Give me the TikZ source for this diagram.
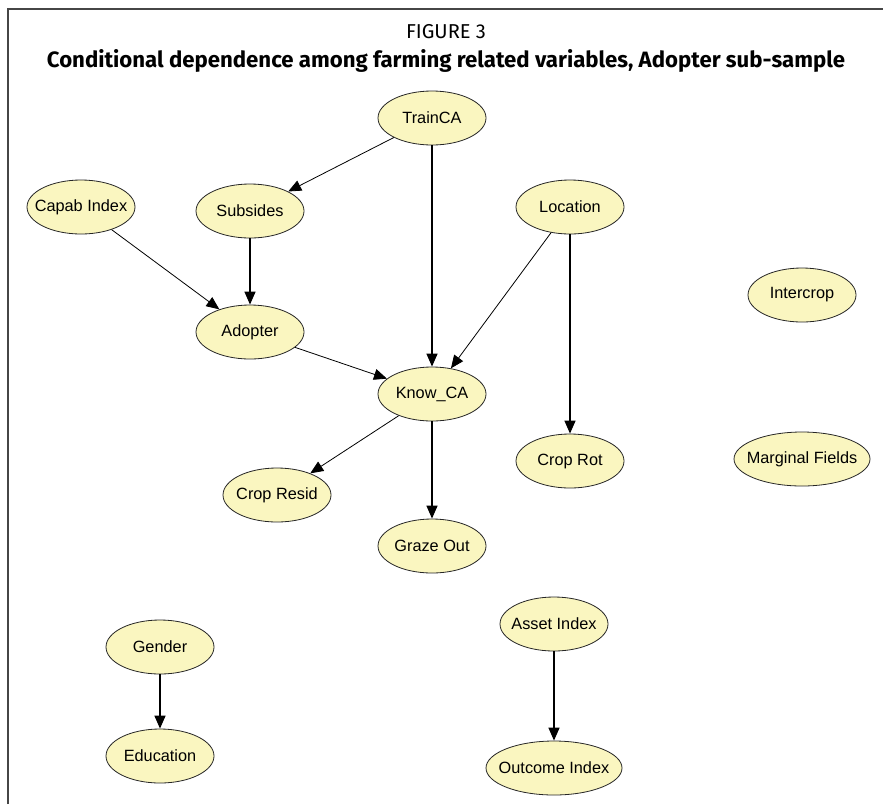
\documentclass[tikz,border=0pt]{standalone}
\usepackage{fontspec}
\setmainfont{Liberation Sans}
\newfontfamily\titlefont{Fira Sans}
\usetikzlibrary{shapes.geometric,arrows.meta}
\definecolor{nodefill}{RGB}{250,246,192}
\definecolor{framegray}{RGB}{70,70,70}
\newcommand\vlab[1]{\makebox[0pt]{#1}}
\begin{document}
\begin{tikzpicture}[x=1pt,y=-1pt,
  var/.style={ellipse, draw=black!85, line width=0.8pt, fill=nodefill,
    minimum width=108pt, minimum height=54pt, inner sep=0pt,
    font=\fontsize{16.3pt}{19pt}\selectfont},
  widevar/.style={var, minimum width=136pt},
  edge/.style={-{Triangle[length=13pt,width=11pt]}, line width=0.8pt, black},
  vedge/.style={edge, line width=1.4pt},
  frameline/.style={draw=framegray, line width=1.3pt}]
\useasboundingbox (0,0) rectangle (883,804);
% frame
\coordinate (fbl) at (8,804);
\coordinate (ftl) at (8,9);
\coordinate (ftr) at (883,9);
\draw[frameline] (fbl) -- (ftl) -- (ftr);
% titles
\node[anchor=base, inner sep=0pt] (fig) at (446,38) {\resizebox{80pt}{!}{\titlefont FIGURE 3}};
\node[anchor=base, inner sep=0pt] (title) at (446,67) {\resizebox{798pt}{!}{\titlefont\bfseries Conditional dependence among farming related variables, Adopter sub-sample}};
% nodes
\node[var] (train) at (432,118) {\vlab{TrainCA}};
\node[var] (capab) at (81,207) {\vlab{Capab Index}};
\node[var] (subs) at (250,211) {\vlab{Subsides}};
\node[var] (loc) at (570,207) {\vlab{Location}};
\node[var] (inter) at (802,295) {\vlab{Intercrop}};
\node[var] (adopt) at (250,332) {\vlab{Adopter}};
\node[var] (know) at (432,394) {\vlab{Know\_CA}};
\node[var] (rot) at (570,461) {\vlab{Crop Rot}};
\node[widevar] (marg) at (802,459) {\vlab{Marginal Fields}};
\node[var] (resid) at (277,495) {\vlab{Crop Resid}};
\node[var] (graze) at (432,546) {\vlab{Graze Out}};
\node[var] (gender) at (160,647) {\vlab{Gender}};
\node[var] (edu) at (160,756) {\vlab{Education}};
\node[var] (asset) at (554,624) {\vlab{Asset Index}};
\node[widevar] (outc) at (554,768) {\vlab{Outcome Index}};
% edges
\draw[edge] (train) -- (subs);
\draw[vedge] (train) -- (know);
\draw[edge] (capab) -- (adopt);
\draw[vedge] (subs) -- (adopt);
\draw[edge] (adopt) -- (know);
\draw[edge] (loc) -- (know);
\draw[vedge] (loc) -- (rot);
\draw[edge] (know) -- (resid);
\draw[vedge] (know) -- (graze);
\draw[vedge] (gender) -- (edu);
\draw[vedge] (asset) -- (outc);
\end{tikzpicture}
\end{document}
